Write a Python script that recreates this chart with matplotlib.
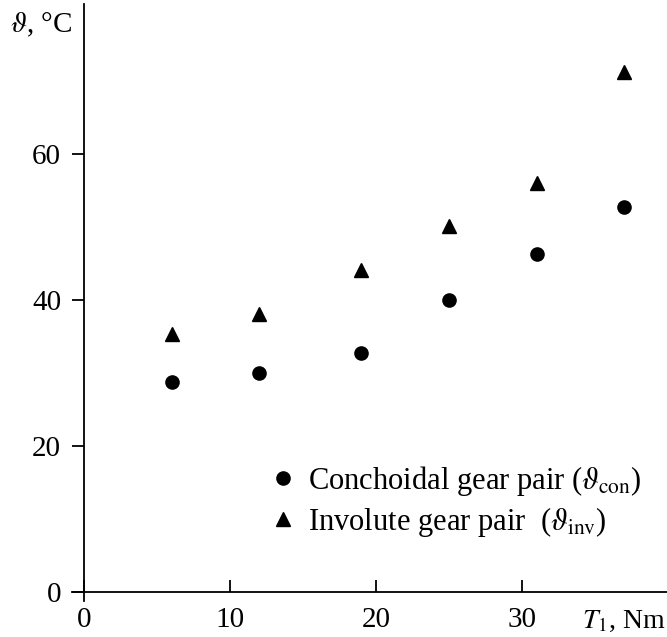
import matplotlib
matplotlib.use("Agg")
import matplotlib.pyplot as plt

plt.rcParams["font.family"] = ["Liberation Serif", "DejaVu Serif"]
plt.rcParams["mathtext.fontset"] = "stix"

# torque T1, Nm
torque = [6, 12, 19, 25, 31, 37]
# temperature, degC
temp_con = [28.8, 30.0, 32.7, 40.0, 46.3, 52.7]
temp_inv = [35.3, 38.1, 44.1, 50.1, 56.0, 71.2]

x_ticks = [0, 10, 20, 30]
y_ticks = [0, 20, 40, 60]

fig = plt.figure(figsize=(6.67, 6.37), dpi=100)
ax = fig.add_axes([0.1084, 0.0568, 0.891, 0.9364])

ax.plot(torque, temp_con, "o", color="black", markersize=9.5, linestyle="none",
        label=r"Conchoidal gear pair ($\vartheta_{\rm con}$)")
ax.plot(torque, temp_inv, "^", color="black", markersize=9.5, linestyle="none",
        label=r"Involute gear pair  ($\vartheta_{\rm inv}$)")

ax.set_xlim(-0.8, 39.9)
ax.set_ylim(-1.2, 80.5)
ax.spines["left"].set_position(("data", 0))
ax.spines["bottom"].set_position(("data", 0))
ax.spines["right"].set_visible(False)
ax.spines["top"].set_visible(False)
for s in ("left", "bottom"):
  ax.spines[s].set_linewidth(1.3)

ax.set_xticks(x_ticks)
ax.set_yticks(y_ticks)
ax.tick_params(axis="x", direction="in", length=8.5, width=1.3, pad=11, labelsize=21)
ax.tick_params(axis="y", direction="out", length=8.5, width=1.3, pad=8, labelsize=21)

fig.text(10/667, 1-25/637, r"$\vartheta$, °C", fontsize=21, ha="left", va="center")
fig.text(666/667, 1-621/637, r"$T_1$, Nm", fontsize=20, ha="right", va="center")

leg = ax.legend(loc="center left", bbox_to_anchor=(0.329, 0.167), frameon=False,
                fontsize=22, borderpad=0, handlelength=1.0, handletextpad=0.32,
                labelspacing=0.23, borderaxespad=0)

fig.savefig("out.png", dpi=100)
